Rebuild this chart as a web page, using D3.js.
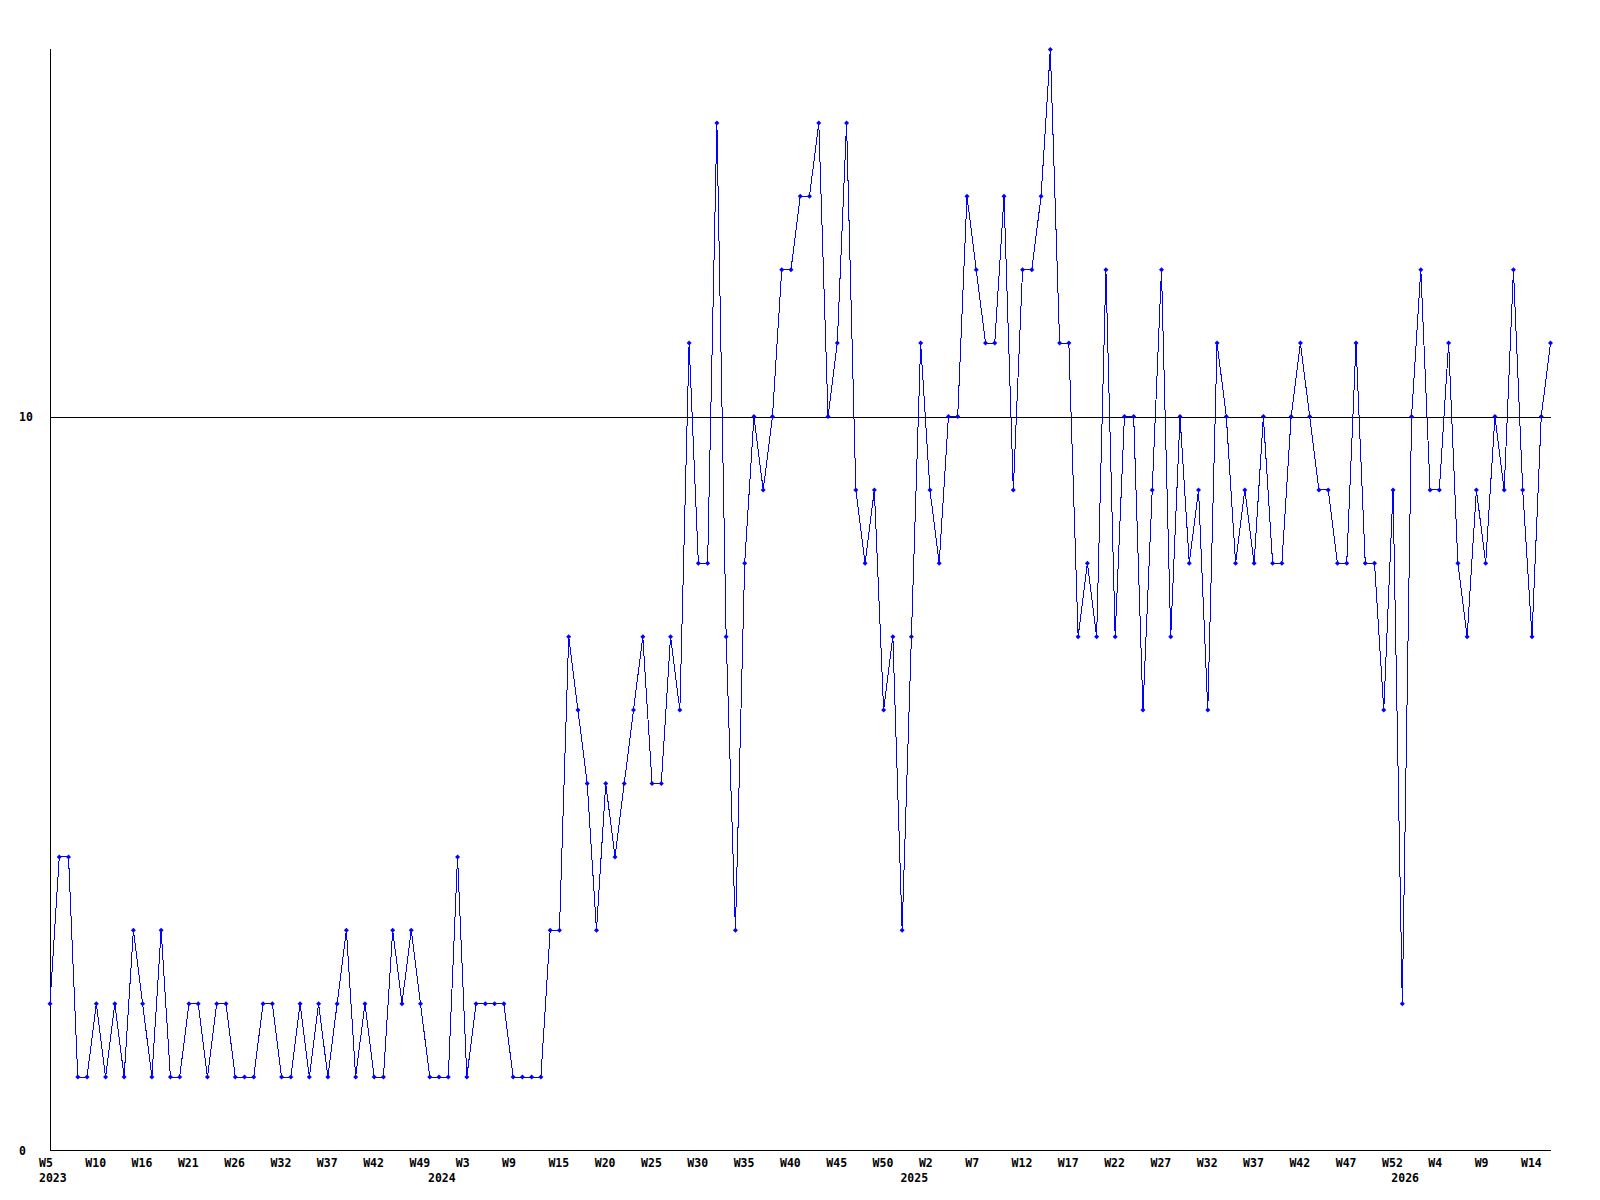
<!DOCTYPE html>
<html>
<head>
<meta charset="utf-8">
<script src="https://cdn.jsdelivr.net/npm/d3@7"></script>
<style>
  body { margin: 0; background: #fff; }
  svg { display: block; }
  text { font-family: "DejaVu Sans Mono", monospace; font-weight: bold; font-size: 11.5px; fill: #000; }
</style>
</head>
<body>
<svg width="1600" height="1200"></svg>
<script>
// weekly counts, one per point, first point = 2023 W5
var counts = [
  2,4,4,1,1,2,1,2,1,3,
  2,1,3,1,1,2,2,1,2,2,
  1,1,1,2,2,1,1,2,1,2,
  1,2,3,1,2,1,1,3,2,3,
  2,1,1,1,4,1,2,2,2,2,
  1,1,1,1,3,3,7,6,5,3,
  5,4,5,6,7,5,5,7,6,11,
  8,8,14,7,3,8,10,9,10,12,
  12,13,13,14,10,11,14,9,8,9,
  6,7,3,7,11,9,8,10,10,13,
  12,11,11,13,9,12,12,13,15,11,
  11,7,8,7,12,7,10,10,6,9,
  12,7,10,8,9,6,11,10,8,9,
  8,10,8,8,10,11,10,9,9,8,
  8,11,8,8,6,9,2,10,12,9,
  9,11,8,7,9,8,10,9,12,9,
  7,10,11
];

// a week label every 5th point
var weekLabels = ['W5','W10','W16','W21','W26','W32','W37','W42','W49',
  'W3','W9','W15','W20','W25','W30','W35','W40','W45','W50',
  'W2','W7','W12','W17','W22','W27','W32','W37','W42','W47','W52',
  'W4','W9','W14'];
var weekStep = 5;

// year labels and the point where each year starts
var yearLabels = ['2023','2024','2025','2026'];
var yearStart = [0, 42, 93, 146];

var yTicks = [0, 10];

var svg = d3.select('svg');

var scaleX = d3.scalePoint()
    .domain(d3.range(counts.length))
    .range([50, 1550.5]);
var scaleY = d3.scaleLinear().domain([0, 15]).range([1150.5, 49.5]);

// gridline at 10
svg.append('line')
    .attr('x1', 50).attr('x2', 1551)
    .attr('y1', Math.round(scaleY(10)) + 0.5).attr('y2', Math.round(scaleY(10)) + 0.5)
    .attr('stroke', '#000')
    .attr('shape-rendering', 'crispEdges');

// axes lines
svg.append('line')
    .attr('x1', 50.5).attr('x2', 50.5)
    .attr('y1', 49).attr('y2', 1151)
    .attr('stroke', '#000')
    .attr('shape-rendering', 'crispEdges');
svg.append('line')
    .attr('x1', 50).attr('x2', 1551)
    .attr('y1', 1150.5).attr('y2', 1150.5)
    .attr('stroke', '#000')
    .attr('shape-rendering', 'crispEdges');

// y labels
svg.selectAll('.ylab')
    .data(yTicks)
    .enter()
    .append('text')
    .attr('class', 'ylab')
    .attr('x', 19)
    .attr('y', function(d){ return scaleY(d) + 4; })
    .text(function(d){ return d; });

// x labels, left edge sits a little before the point
svg.selectAll('.wlab')
    .data(weekLabels)
    .enter()
    .append('text')
    .attr('class', 'wlab')
    .attr('x', function(d, i){ return scaleX(i * weekStep) - 11; })
    .attr('y', 1167)
    .text(function(d){ return d; });

svg.selectAll('.ylabel')
    .data(yearLabels)
    .enter()
    .append('text')
    .attr('class', 'ylabel')
    .attr('x', function(d, i){ return scaleX(yearStart[i]) - 11; })
    .attr('y', 1182)
    .text(function(d){ return d; });

// the line
var line = d3.line()
    .x(function(d, i){ return scaleX(i); })
    .y(function(d){ return scaleY(d); });

svg.append('path')
    .datum(counts)
    .attr('d', line)
    .attr('fill', 'none')
    .attr('stroke', '#0000ff')
    .attr('stroke-width', 1)
    .attr('shape-rendering', 'crispEdges');

// small diamond markers
svg.selectAll('.pt')
    .data(counts)
    .enter()
    .append('path')
    .attr('class', 'pt')
    .attr('d', function(d, i){
        var x = scaleX(i), y = scaleY(d), r = 2.5;
        return 'M' + (x - r) + ',' + y + 'L' + x + ',' + (y - r) + 'L' + (x + r) + ',' + y + 'L' + x + ',' + (y + r) + 'Z';
    })
    .attr('fill', '#0000ff');
</script>
</body>
</html>
